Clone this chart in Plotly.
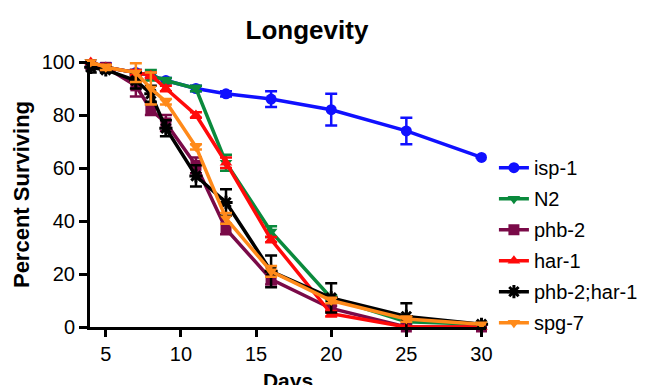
import plotly.graph_objects as go

days = [4, 5, 7, 8, 9, 11, 13, 16, 20, 25, 30]

series_names = ["isp-1", "N2", "phb-2", "har-1", "phb-2;har-1", "spg-7"]

isp1 = [99, 98, 96, 95, 93, 90, 88, 86, 82, 74, 64]
isp1_err = [1, 1.5, 1, 1, 1, 1, 1, 3, 6, 5, 0]

n2 = [100, 98, 96, 95, 93, 90, 62, 36, 11, 2, 1]
n2_err = [1, 1, 1, 2, 1, 1, 3, 2, 1, 1, 0]

phb2 = [99, 98, 91, 82, 77, 61, 37, 18, 7, 0, 0]
phb2_err = [1, 1, 4, 2, 3, 3, 2, 2, 1, 0, 0]

har1 = [100, 98, 96, 95, 90, 80, 62, 33, 5, 0, 0]
har1_err = [1, 1, 1, 1, 1, 1, 2, 1, 1, 0, 0]

phb2har1 = [98, 97, 93, 88, 75, 57, 47, 21, 11, 4, 1]
phb2har1_err = [2, 1, 3, 3, 3, 4, 5, 6, 5.5, 5, 0]

spg7 = [100, 98, 96, 90, 85, 68, 41, 21, 10, 3, 1]
spg7_err = [1, 1, 3.5, 6, 1, 1, 2, 2, 1, 1, 0]

values = [isp1, n2, phb2, har1, phb2har1, spg7]
errors = [isp1_err, n2_err, phb2_err, har1_err, phb2har1_err, spg7_err]
colors = ["#1010ff", "#0a8a3c", "#7a0a48", "#ff0a0a", "#000000", "#ff8a1a"]
symbols = ["circle", "triangle-down", "square", "triangle-up", "asterisk", "triangle-down"]

x_ticks = [5, 10, 15, 20, 25, 30]
y_ticks = [0, 20, 40, 60, 80, 100]

FONT = "Arial, 'Liberation Sans', Helvetica, sans-serif"

fig = go.Figure()
for name, vals, errs, col, sym in zip(series_names, values, errors, colors, symbols):
    marker = dict(symbol=sym, size=11, color=col)
    if sym == "asterisk":
        marker = dict(symbol=sym, size=11, color=col, line=dict(color=col, width=3))
    fig.add_trace(go.Scatter(
        x=days, y=vals, name=name, mode="lines+markers",
        line=dict(color=col, width=3.5),
        marker=marker,
        error_y=dict(type="data", array=errs, visible=True, color=col,
                     thickness=2.5, width=6),
        cliponaxis=False,
        legendgroup=name,
    ))

fig.update_layout(
    width=647, height=385,
    margin=dict(l=82, r=165, t=54, b=66),
    paper_bgcolor="white", plot_bgcolor="white",
    font=dict(family=FONT, color="black"),
    title=dict(text="<b>Longevity</b>", x=299 / 647, xref="container", xanchor="center",
               y=1 - 22 / 385, yref="container", yanchor="middle",
               font=dict(size=26, family=FONT, color="black")),
    showlegend=True,
    legend=dict(x=1.02, xanchor="left", y=0.675, yanchor="top",
                font=dict(size=20, family=FONT, color="black"),
                tracegroupgap=2, bgcolor="rgba(0,0,0,0)"),
)

fig.update_xaxes(
    range=[3.95, 30.3], tickvals=x_ticks,
    showgrid=False, zeroline=False, showline=True, linecolor="black", linewidth=3,
    ticks="outside", ticklen=7, tickwidth=3, tickcolor="black",
    tickfont=dict(size=20, family=FONT, color="black"),
    tickprefix="<b>", ticksuffix="</b>",
    title=dict(text="<b>Days</b>", font=dict(size=21, family=FONT, color="black"), standoff=10),
    automargin=False,
)
fig.update_yaxes(
    range=[0, 100], tickvals=y_ticks,
    showgrid=False, zeroline=False, showline=True, linecolor="black", linewidth=3,
    ticks="outside", ticklen=8, tickwidth=3, tickcolor="black",
    tickfont=dict(size=20, family=FONT, color="black"),
    tickprefix="<b>", ticksuffix="</b>",
    title=dict(text="<b>Percent Surviving</b>", font=dict(size=22, family=FONT, color="black"), standoff=6),
    automargin=False,
)

fig.write_html("out.html")
